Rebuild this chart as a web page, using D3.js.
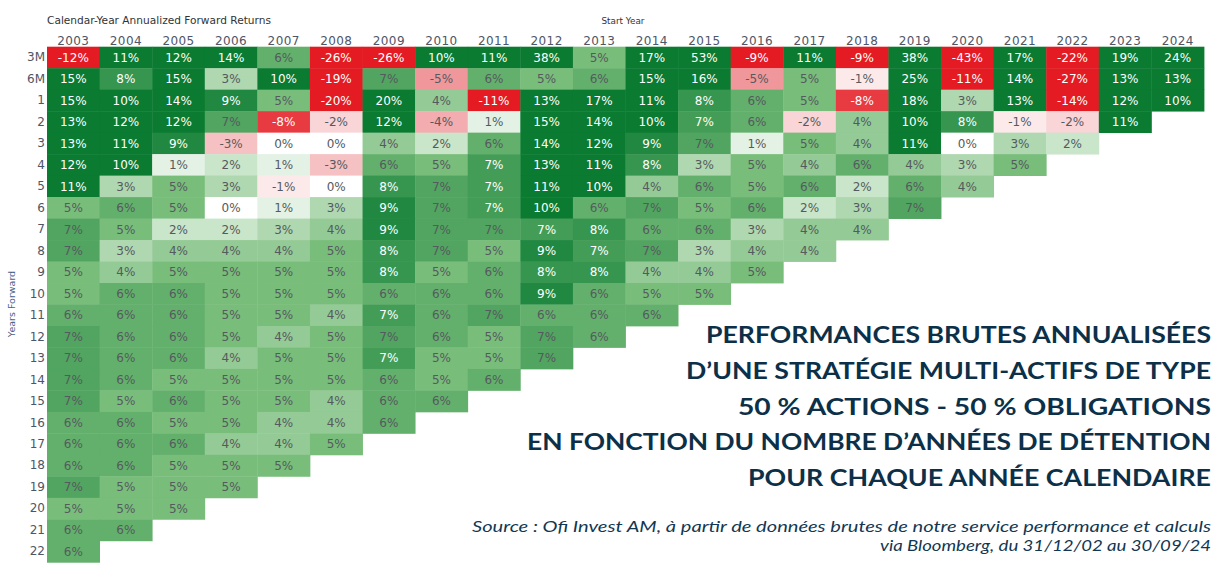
<!DOCTYPE html>
<html>
<head>
<meta charset="utf-8">
<script src="https://cdn.jsdelivr.net/npm/d3@7"></script>
<style>
  html, body { margin: 0; padding: 0; background: #ffffff; }
  svg { display: block; }
</style>
</head>
<body>
<svg id="chart" width="1227" height="579"></svg>
<script>
// ---------------- DATA ----------------
const startYears = ["2003","2004","2005","2006","2007","2008","2009","2010","2011","2012","2013",
                    "2014","2015","2016","2017","2018","2019","2020","2021","2022","2023","2024"];
const horizons = ["3M","6M","1","2","3","4","5","6","7","8","9","10","11","12","13","14","15",
                  "16","17","18","19","20","21","22"];

// Annualized forward returns (%), one array per horizon, values by start year from 2003
const r3M = [-12, 11, 12, 14, 6, -26, -26, 10, 11, 38, 5, 17, 53, -9, 11, -9, 38, -43, 17, -22, 19, 24];
const r6M = [15, 8, 15, 3, 10, -19, 6.8, -5, 6, 5, 6, 15, 16, -5, 5, -1, 25, -11, 14, -27, 13, 13];
const r1  = [15, 10, 14, 9, 5, -20, 20, 4, -11, 13, 17, 11, 8, 6, 5, -8, 18, 3, 13, -14, 12, 10];
const r2  = [13, 12, 12, 6.8, -8, -2, 12, -4, 1, 15, 14, 10, 7.4, 6, -2, 4, 10, 8, -1, -2, 11];
const r3  = [13, 11, 9, -3, 0, 0, 4, 2, 6, 14, 12, 9, 6.8, 1, 5, 4, 11, 0, 3, 2];
const r4  = [12, 10, 1, 2, 1, -3, 6, 5, 7.4, 13, 11, 8, 3, 5, 4, 6, 4, 3, 5];
const r5  = [11, 3, 5, 3, -1, 0, 8, 6.8, 7.4, 11, 10, 4, 6, 5, 6, 2, 6, 4];
const r6  = [5, 6, 5, 0, 1, 3, 9, 6.8, 7.4, 10, 6, 6.8, 5, 6, 2, 3, 6.8];
const r7  = [6.8, 5, 2, 2, 3, 4, 9, 6.8, 6.8, 7.4, 8, 6, 6, 3, 4, 4];
const r8  = [6.8, 3, 4, 4, 4, 5, 8, 6.8, 5, 9, 7.4, 6.8, 3, 4, 4];
const r9  = [5, 4, 5, 5, 5, 5, 8, 5, 6, 8, 8, 4, 4, 5];
const r10 = [5, 6, 6, 5, 5, 5, 6, 6, 6, 9, 6, 5, 5];
const r11 = [6, 6, 6, 5, 5, 4, 7.4, 6, 6.8, 6, 6, 6];
const r12 = [6.8, 6, 6, 5, 4, 5, 6.8, 6, 5, 6.8, 6];
const r13 = [6.8, 6, 6, 4, 5, 5, 7.4, 5, 5, 6.8];
const r14 = [6.8, 6, 5, 5, 5, 5, 6, 5, 6];
const r15 = [6.8, 5, 6, 5, 5, 4, 6, 6];
const r16 = [6, 6, 5, 5, 4, 4, 6];
const r17 = [6, 6, 6, 4, 4, 5];
const r18 = [6, 6, 5, 5, 5];
const r19 = [6.8, 5, 5, 5];
const r20 = [5, 5, 5];
const r21 = [6, 6];
const r22 = [6];
const horizonSeries = [r3M, r6M, r1, r2, r3, r4, r5, r6, r7, r8, r9, r10, r11, r12, r13, r14, r15,
                       r16, r17, r18, r19, r20, r21, r22];

const chartTitle = "Calendar-Year Annualized Forward Returns";
const xAxisTitle = "Start Year";
const yAxisTitle = "Years Forward";
const headlineLines = [
  "PERFORMANCES BRUTES ANNUALISÉES",
  "D’UNE STRATÉGIE MULTI-ACTIFS DE TYPE",
  "50 % ACTIONS - 50 % OBLIGATIONS",
  "EN FONCTION DU NOMBRE D’ANNÉES DE DÉTENTION",
  "POUR CHAQUE ANNÉE CALENDAIRE"
];
const sourceLines = [
  "Source : Ofi Invest AM, à partir de données brutes de notre service performance et calculs",
  "via Bloomberg, du 31/12/02 au 30/09/24"
];

// ---------------- LAYOUT ----------------
const svg = d3.select("#chart");
const gridLeft = 47, gridRight = 1204, gridTop = 46.7, gridBottom = 562.3;

const x = d3.scaleBand().domain(startYears).range([gridLeft, gridRight]).padding(0);
const y = d3.scaleBand().domain(horizons).range([gridTop, gridBottom]).padding(0);

const negColor = d3.scaleLinear().domain([-9, -5, 0]).range(["#e41b23", "#f0979b", "#ffffff"]).clamp(true);
const posColor = d3.scaleLinear().domain([0, 5, 10]).range(["#ffffff", "#79bd7b", "#0a7b31"]).clamp(true);
const color = v => v < 0 ? negColor(v) : posColor(v);

const cells = [];
horizonSeries.forEach((arr, i) => {
  arr.forEach((v, j) => cells.push({ h: horizons[i], yr: startYears[j], v }));
});

const g = svg.append("g");
g.selectAll("rect.cell")
  .data(cells)
  .join("rect")
  .attr("class", "cell")
  .attr("x", d => x(d.yr))
  .attr("y", d => y(d.h))
  .attr("width", x.bandwidth() + 0.4)
  .attr("height", y.bandwidth() + 0.4)
  .attr("fill", d => color(d.v));

g.selectAll("text.val")
  .data(cells)
  .join("text")
  .attr("class", "val")
  .attr("x", d => x(d.yr) + x.bandwidth() / 2)
  .attr("y", d => y(d.h) + y.bandwidth() / 2)
  .attr("dy", "0.35em")
  .attr("text-anchor", "middle")
  .attr("font-family", "'DejaVu Sans', Verdana, sans-serif")
  .attr("font-size", 12)
  .attr("fill", d => (d.v >= 7.2 || d.v <= -6) ? "#ffffff" : "#555a5e")
  .text(d => Math.round(d.v) + "%");

// Axes
const xAxis = d3.axisTop(x).tickSize(0).tickPadding(2);
const gx = svg.append("g").attr("transform", `translate(0,${gridTop})`).call(xAxis);
gx.select(".domain").remove();
gx.selectAll("text")
  .attr("font-family", "'DejaVu Sans', Verdana, sans-serif")
  .attr("font-size", 12)
  .attr("letter-spacing", 0.4)
  .attr("fill", "#4e5566");

const yAxis = d3.axisLeft(y).tickSize(0).tickPadding(2);
const gy = svg.append("g").attr("transform", `translate(${gridLeft},0)`).call(yAxis);
gy.select(".domain").remove();
gy.selectAll("text")
  .attr("font-family", "'DejaVu Sans', Verdana, sans-serif")
  .attr("font-size", 12)
  .attr("fill", "#4e5566");

// Titles
svg.append("text")
  .attr("x", gridLeft).attr("y", 24)
  .attr("font-family", "'DejaVu Sans', Verdana, sans-serif")
  .attr("font-size", 10)
  .attr("fill", "#333")
  .attr("textLength", 224).attr("lengthAdjust", "spacingAndGlyphs")
  .text(chartTitle);

svg.append("text")
  .attr("x", 601.5).attr("y", 24)
  .attr("font-family", "'DejaVu Sans', Verdana, sans-serif")
  .attr("font-size", 9)
  .attr("fill", "#333")
  .attr("textLength", 43).attr("lengthAdjust", "spacingAndGlyphs")
  .text(xAxisTitle);

svg.append("text")
  .attr("transform", "translate(15,304) rotate(-90)")
  .attr("text-anchor", "middle")
  .attr("font-family", "'DejaVu Sans', Verdana, sans-serif")
  .attr("font-size", 9.5)
  .attr("fill", "#4a5f8c")
  .text(yAxisTitle);

// Headline
const headRight = 1211;
const headBase = [343, 379, 415, 450, 486];
const headWidth = [505, 525, 473, 684, 463];
headlineLines.forEach((t, i) => {
  svg.append("text")
    .attr("x", headRight - headWidth[i]).attr("y", headBase[i])
    .attr("font-family", "Lato, 'Open Sans', sans-serif")
    .attr("font-weight", 700)
    .attr("font-size", 23)
    .attr("fill", "#0d3049")
    .attr("textLength", headWidth[i]).attr("lengthAdjust", "spacingAndGlyphs")
    .text(t);
});

const srcBase = [532, 551];
const srcWidth = [739, 331];
sourceLines.forEach((t, i) => {
  svg.append("text")
    .attr("x", headRight - srcWidth[i]).attr("y", srcBase[i])
    .attr("font-family", "Lato, 'Open Sans', sans-serif")
    .attr("font-style", "italic")
    .attr("font-weight", 400)
    .attr("font-size", 16)
    .attr("fill", "#123752")
    .attr("textLength", srcWidth[i]).attr("lengthAdjust", "spacingAndGlyphs")
    .text(t);
});
</script>
</body>
</html>
